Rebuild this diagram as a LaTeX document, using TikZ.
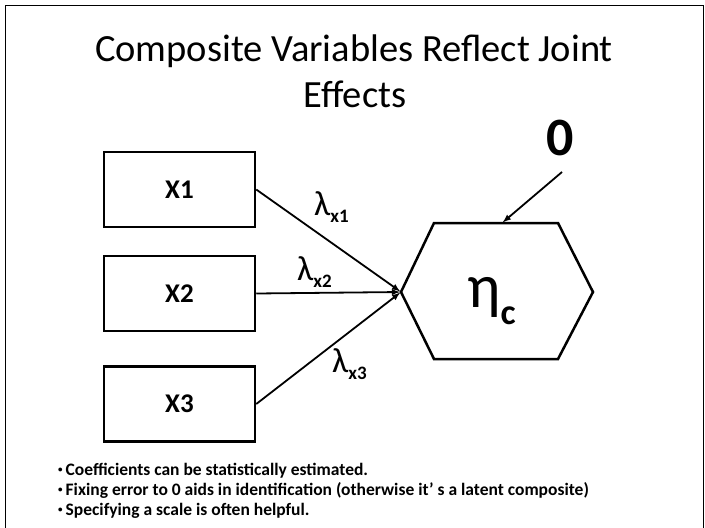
\documentclass[tikz,border=0pt]{standalone}
\usepackage{fontspec}
\setmainfont{Carlito}
\usetikzlibrary{arrows}

\newcommand{\lowsub}[1]{\raisebox{-7pt}{\fontsize{19}{19}\selectfont\bfseries #1}}
\newcommand{\bul}{{\fontsize{9}{9}\selectfont\raisebox{2.5pt}{\textbullet}}\hspace{3pt}}

\tikzset{
  obsbox/.style={draw, line width=2.5pt, minimum width=151pt, minimum height=75pt, inner sep=0pt,
    font=\fontsize{27}{27}\selectfont\bfseries},
  loading/.style={-latex, line width=1.8pt, shorten >=1pt},
  lamlabel/.style={anchor=base west, inner sep=0pt, font=\fontsize{35}{35}\selectfont},
  bullet/.style={anchor=base west, inner sep=0pt, font=\fontsize{17.5}{17.5}\selectfont\bfseries},
}

\begin{document}
\begin{tikzpicture}[x=1pt,y=-1pt]
        \useasboundingbox (0,0) rectangle (705,528);
        % Frame
        \draw[line width=1.5pt] (5.5,528) -- (5.5,5.5) -- (703.5,5.5) -- (703.5,528);

        % Title
        \node[anchor=base, inner sep=0pt, font=\fontsize{38.5}{38.5}\selectfont] (title1) at (354,61) {Composite Variables Reflect Joint};
        \node[anchor=base, inner sep=0pt, font=\fontsize{38.5}{38.5}\selectfont] (title2) at (355,107) {Effects};

        % Indicators
        \node[obsbox] (x1) at (179.5,189.5) {X1};
        \node[obsbox] (x2) at (179.5,293.5) {X2};
        \node[obsbox] (x3) at (179.5,404) {X3};

        % Composite (hexagon)
        \coordinate (hl) at (401,292);
        \coordinate (htop) at (502,223);
        \draw[line width=2.5pt, line join=miter] (hl) -- (434,223) -- (558,223) -- (593,292)
            -- (558,359) -- (434,359) -- cycle;
        \node[anchor=base west, inner sep=0pt, font=\fontsize{62}{62}\selectfont] (eta) at (467,307)
            {η\raisebox{-17pt}{\fontsize{36}{36}\selectfont\bfseries c}};

        % Error fixed to 0
        \node[anchor=base, inner sep=0pt, font=\fontsize{54}{54}\selectfont\bfseries] (zero) at (560,155) {0};
        \coordinate (err) at (562,172);
        \draw[loading] (err) -- (htop);

        % Loadings
        \draw[loading] (x1.east) -- (hl);
        \draw[loading] (x2.east) -- (hl);
        \draw[loading] (x3.east) -- (hl);
        \node[lamlabel] (l1) at (314,215) {λ\lowsub{x1}};
        \node[lamlabel] (l2) at (297,280) {λ\lowsub{x2}};
        \node[lamlabel] (l3) at (332,372) {λ\lowsub{x3}};

        % Notes
        \node[bullet] (b1) at (58,475) {\bul Coefficients can be statistically estimated.};
        \node[bullet] (b2) at (58,495) {\bul Fixing error to 0 aids in identification (otherwise it’ s a latent composite)};
        \node[bullet] (b3) at (58,515) {\bul Specifying a scale is often helpful.};
\end{tikzpicture}
\end{document}
